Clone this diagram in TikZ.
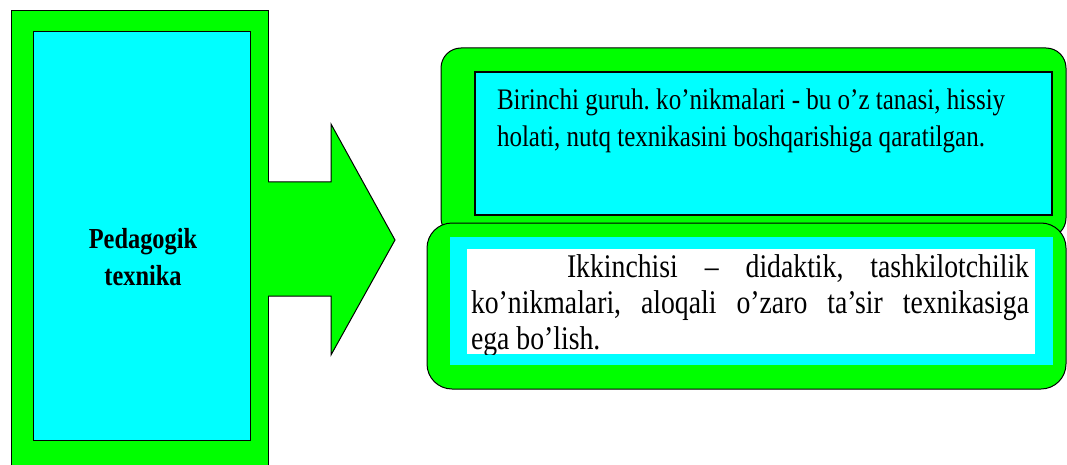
\documentclass[tikz,border=0pt]{standalone}
\usepackage{fontspec}
\setmainfont{Liberation Serif}[FakeStretch=0.84]
\frenchspacing
\definecolor{boxgreen}{RGB}{0,255,0}
\definecolor{boxcyan}{RGB}{0,255,255}

\begin{document}
\begin{tikzpicture}[x=1pt,y=-1pt,
	box/.style={draw,line width=1pt,inner sep=0,outer sep=0,anchor=north west},
	plain/.style={inner sep=0,outer sep=0,anchor=north west},
	txt/.style={inner sep=0,outer sep=0,anchor=base west,font=\fontsize{29.8}{37}\selectfont}]
	\useasboundingbox (0,0) rectangle (1067,465);
	\node[box,fill=boxgreen,minimum width=257pt,minimum height=470pt] (1) at (11,11) {};
	\node[box,fill=boxcyan,minimum width=217pt,minimum height=408pt] (2) at (33,32) {};
	\node[inner sep=0,anchor=base,font=\bfseries\fontsize{29}{37}\selectfont] (3) at (143,248) {\parbox[t]{200pt}{\centering Pedagogik\\texnika}};
	\fill[boxgreen] (266,182) -- (331,182) -- (331,124) -- (395,240) -- (331,355) -- (331,296) -- (266,296) -- cycle;
	\draw[line width=1pt] (1.east |- 0,182) -- (331,182) -- (331,124) -- (395,240) -- (331,355) -- (331,296) -- (1.east |- 0,296);
	\node[box,fill=boxgreen,rounded corners=20pt,minimum width=625pt,minimum height=190pt] (4) at (441,48) {};
	\node[box,fill=boxcyan,line width=1.5pt,minimum width=577pt,minimum height=143pt] (5) at (475,72) {};
	\node[txt] (6) at (497,110) {\parbox[t]{555pt}{\raggedright Birinchi guruh. ko’nikmalari - bu o’z tanasi, hissiy\\holati, nutq texnikasini boshqarishiga qaratilgan.}};
	\node[box,fill=boxgreen,rounded corners=25pt,minimum width=639pt,minimum height=166pt] (7) at (427,223) {};
	\node[plain,fill=boxcyan,minimum width=603pt,minimum height=128pt] (8) at (450,237) {};
	\node[plain,fill=white,minimum width=568pt,minimum height=105pt] (9) at (467,249) {};
	\begin{scope}
		\clip (9.north west) rectangle (9.south east);
		\node[txt,font=\fontsize{33}{36}\selectfont] (10) at (471,277) {\parbox[t]{558pt}{\hspace*{96pt}Ikkinchisi – didaktik, tashkilotchilik\linebreak ko’nikmalari, aloqali o’zaro ta’sir texnikasiga\linebreak ega bo’lish.}};
	\end{scope}
\end{tikzpicture}
\end{document}
